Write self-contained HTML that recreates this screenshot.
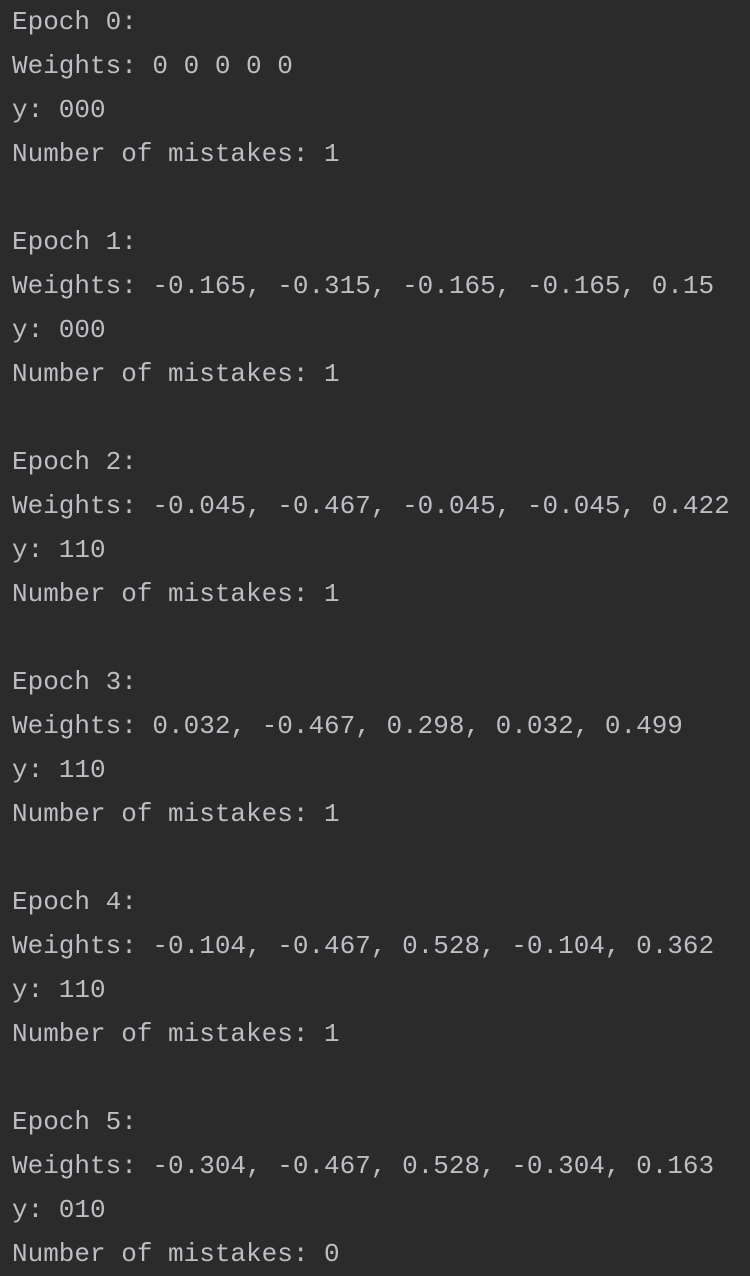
<!DOCTYPE html>
<html><head><meta charset="utf-8"><style>
html,body{margin:0;padding:0;background:#2b2b2b;width:750px;height:1268px;overflow:hidden}
pre{margin:0;position:absolute;left:12px;top:0px;font-family:"Liberation Mono","DejaVu Sans Mono",monospace;font-size:26px;line-height:44px;color:#bcbec4;white-space:pre;letter-spacing:0}
</style></head><body>
<pre>Epoch 0:
Weights: 0 0 0 0 0
y: 000
Number of mistakes: 1

Epoch 1:
Weights: -0.165, -0.315, -0.165, -0.165, 0.15
y: 000
Number of mistakes: 1

Epoch 2:
Weights: -0.045, -0.467, -0.045, -0.045, 0.422
y: 110
Number of mistakes: 1

Epoch 3:
Weights: 0.032, -0.467, 0.298, 0.032, 0.499
y: 110
Number of mistakes: 1

Epoch 4:
Weights: -0.104, -0.467, 0.528, -0.104, 0.362
y: 110
Number of mistakes: 1

Epoch 5:
Weights: -0.304, -0.467, 0.528, -0.304, 0.163
y: 010
Number of mistakes: 0</pre>
</body></html>
